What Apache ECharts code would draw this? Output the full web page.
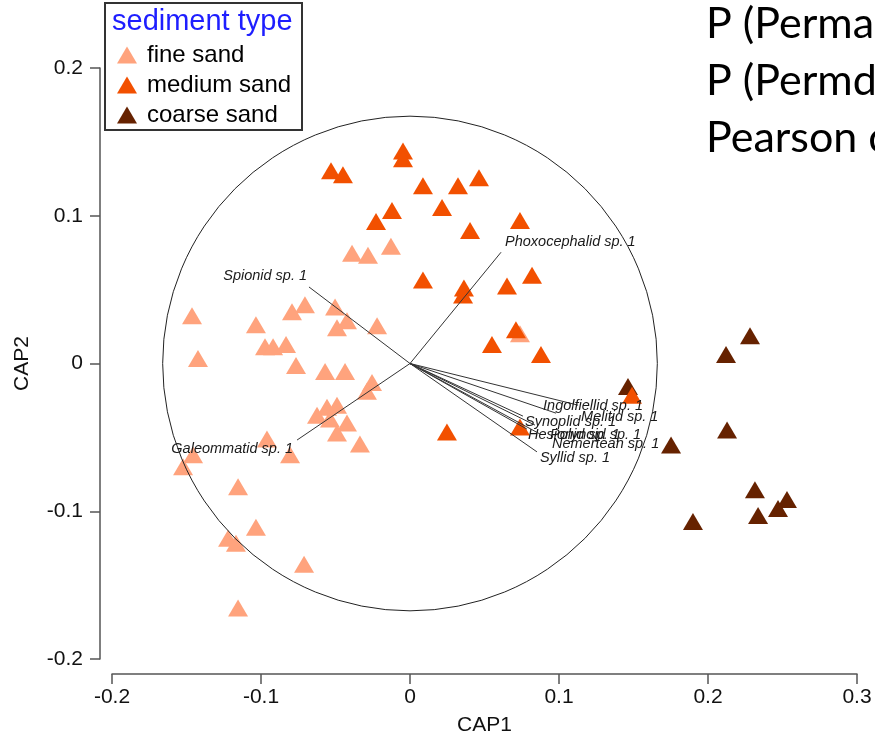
<!DOCTYPE html>
<html>
<head>
<meta charset="utf-8">
<script src="https://cdn.jsdelivr.net/npm/echarts@6/dist/echarts.min.js"></script>
<style>
html,body{margin:0;padding:0;background:#fff;}
#chart{width:875px;height:741px;}
</style>
</head>
<body>
<div id="chart"></div>
<script>
// ---------- data ----------
const xTicks = [-0.2, -0.1, 0, 0.1, 0.2, 0.3];
const yTicks = [-0.2, -0.1, 0, 0.1, 0.2];
const groupNames = ['fine sand', 'medium sand', 'coarse sand'];

const fineSand = [
  [-0.1463, 0.0323], [-0.1423, 0.0034], [-0.1034, 0.0262], [-0.0973, 0.0114],
  [-0.0919, 0.0114], [-0.0832, 0.0128], [-0.0792, 0.0350], [-0.0705, 0.0397],
  [-0.0765, -0.0013], [-0.0570, -0.0054], [-0.0436, -0.0054], [-0.0503, 0.0383],
  [-0.0423, 0.0289], [-0.0490, 0.0242], [-0.0221, 0.0255], [-0.0389, 0.0746],
  [-0.0282, 0.0733], [-0.0128, 0.0793], [-0.0255, -0.0128], [-0.0289, -0.0188],
  [-0.0557, -0.0296], [-0.0490, -0.0282], [-0.0624, -0.0350], [-0.0537, -0.0376],
  [-0.0423, -0.0403], [-0.0490, -0.0471], [-0.0336, -0.0545], [-0.0805, -0.0618],
  [-0.0960, -0.0511], [-0.1456, -0.0618], [-0.1523, -0.0699], [-0.1154, -0.0834],
  [-0.1034, -0.1109], [-0.1221, -0.1183], [-0.1168, -0.1217], [-0.0711, -0.1358],
  [-0.1154, -0.1654], [0.0738, 0.0202]
];
const mediumSand = [
  [-0.0047, 0.1439], [-0.0047, 0.1385], [-0.0530, 0.1304], [-0.0450, 0.1277],
  [0.0087, 0.1203], [0.0322, 0.1203], [0.0463, 0.1257], [-0.0121, 0.1035],
  [-0.0228, 0.0961], [0.0215, 0.1055], [0.0403, 0.0901], [0.0738, 0.0968],
  [0.0087, 0.0565], [0.0362, 0.0511], [0.0356, 0.0464], [0.0651, 0.0524],
  [0.0819, 0.0598], [0.0711, 0.0229], [0.0550, 0.0128], [0.0879, 0.0061],
  [0.0248, -0.0464], [0.0738, -0.0430], [0.1490, -0.0215]
];
const coarseSand = [
  [0.2282, 0.0188], [0.2121, 0.0061], [0.1463, -0.0155], [0.2128, -0.0450],
  [0.1752, -0.0551], [0.2315, -0.0854], [0.2530, -0.0921], [0.2470, -0.0982],
  [0.2336, -0.1029], [0.1899, -0.1069]
];

// correlation vectors (end point) and their label anchor points
const vecNames = ['Phoxocephalid sp. 1', 'Spionid sp. 1', 'Galeommatid sp. 1',
  'Ingolfiellid sp. 1', 'Melitid sp. 1', 'Synoplid sp. 1', 'Hesionid sp. 1',
  'Polynoid sp. 1', 'Nemertean sp. 1', 'Syllid sp. 1'];
const vecX = [0.0611, -0.0678, -0.0758, 0.1128, 0.0980, 0.0758, 0.0785, 0.0839, 0.0872, 0.0852];
const vecY = [0.0753, 0.0518, -0.0518, -0.0282, -0.0336, -0.0356, -0.0444, -0.0417, -0.0477, -0.0598];
const labelX = [0.0638, -0.0691, -0.0785, 0.0893, 0.1148, 0.0772, 0.0792, 0.0940, 0.0953, 0.0872];
const labelY = [0.0820, 0.0592, -0.0578, -0.0289, -0.0363, -0.0397, -0.0484, -0.0484, -0.0545, -0.0639];
const circleRadius = 0.1667;

const infoLines = ['P (Permanova)', 'P (Permdisp)', 'Pearson correlation'];

// ---------- styles ----------
const colors = {'fine sand': '#FFA37D', 'medium sand': '#F25000', 'coarse sand': '#662200'};
const labelAlign = ['left', 'right', 'right', 'left', 'left', 'left', 'left', 'left', 'left', 'left'];
const FONT = '"Liberation Sans", Arial, sans-serif';

const chart = echarts.init(document.getElementById('chart'), null, {renderer: 'canvas'});

function fmt(v) { return Math.abs(v) < 1e-9 ? '0' : (Math.round(v * 10) / 10).toFixed(1); }

const axisCommon = {
  type: 'value',
  axisLine: {show: true, onZero: false, lineStyle: {color: '#555', width: 1.5}},
  axisTick: {show: true, length: 10, lineStyle: {color: '#555', width: 1.5}},
  splitLine: {show: false},
  axisLabel: {fontFamily: FONT, fontSize: 21, color: '#111', formatter: fmt},
  nameTextStyle: {fontFamily: FONT, fontSize: 21, color: '#111'},
  nameLocation: 'middle'
};

const scatterSeries = [
  ['fine sand', fineSand],
  ['coarse sand', coarseSand],
  ['medium sand', mediumSand]
].map(([name, data]) => ({
  name: name,
  type: 'scatter',
  symbol: 'triangle',
  symbolSize: [20, 17],
  data: data,
  itemStyle: {color: colors[name], opacity: 1},
  z: 2
}));

const option = {
  animation: false,
  backgroundColor: '#fff',
  grid: {left: 112, right: 18, top: 68, bottom: 78},
  xAxis: Object.assign({}, axisCommon, {
    min: -0.2, max: 0.3, interval: 0.1, offset: 15,
    name: 'CAP1', nameGap: 41,
    axisLabel: Object.assign({}, axisCommon.axisLabel, {margin: 13})
  }),
  yAxis: Object.assign({}, axisCommon, {
    min: -0.2, max: 0.2, interval: 0.1, offset: 12,
    name: 'CAP2', nameGap: 67,
    axisLabel: Object.assign({}, axisCommon.axisLabel, {margin: 17})
  }),
  legend: {
    orient: 'vertical',
    left: 112, top: 38,
    itemWidth: 20, itemHeight: 17, itemGap: 6,
    data: groupNames.map(n => ({name: n, icon: 'triangle'})),
    textStyle: {fontFamily: FONT, fontSize: 24, color: '#000', padding: [0, 0, 0, 5]},
    selectedMode: false
  },
  graphic: [
    {type: 'rect', shape: {x: 105, y: 3, width: 197, height: 127},
     style: {fill: 'none', stroke: '#333', lineWidth: 2}, z: 10},
    {type: 'text', x: 112, y: 22,
     style: {text: 'sediment type', fill: '#1E1EFF', font: '29px ' + FONT, textVerticalAlign: 'middle', textAlign: 'left'}, z: 10}
  ].concat(infoLines.map((t, i) => ({
    type: 'text', x: 706, y: 24 + i * 57,
    style: {text: t, fill: '#000', font: '43px Lato, "Open Sans", sans-serif', textVerticalAlign: 'middle', textAlign: 'left'}, z: 10
  }))),
  series: scatterSeries.concat([
    {
      name: 'circle', type: 'custom', z: 3, silent: true,
      data: [[0, 0, circleRadius]],
      renderItem: function (params, api) {
        const c = api.coord([api.value(0), api.value(1)]);
        const rx = api.size([api.value(2), 0])[0];
        const ry = api.size([0, api.value(2)])[1];
        return {type: 'circle', shape: {cx: c[0], cy: c[1], r: (rx + ry) / 2},
          style: {fill: 'none', stroke: '#222', lineWidth: 1}};
      }
    },
    {
      name: 'vectors', type: 'custom', z: 4, silent: true,
      data: vecNames.map((n, i) => [vecX[i], vecY[i], labelX[i], labelY[i]]),
      renderItem: function (params, api) {
        const o = api.coord([0, 0]);
        const e = api.coord([api.value(0), api.value(1)]);
        const l = api.coord([api.value(2), api.value(3)]);
        const i = params.dataIndex;
        return {type: 'group', children: [
          {type: 'line', shape: {x1: o[0], y1: o[1], x2: e[0], y2: e[1]},
           style: {stroke: '#333', lineWidth: 1}},
          {type: 'text', x: l[0], y: l[1],
           style: {text: vecNames[i], fill: '#1a1a1a',
             font: 'italic 14.5px ' + FONT, textAlign: labelAlign[i], textVerticalAlign: 'middle'}}
        ]};
      }
    }
  ])
};
chart.setOption(option);
</script>
</body>
</html>
